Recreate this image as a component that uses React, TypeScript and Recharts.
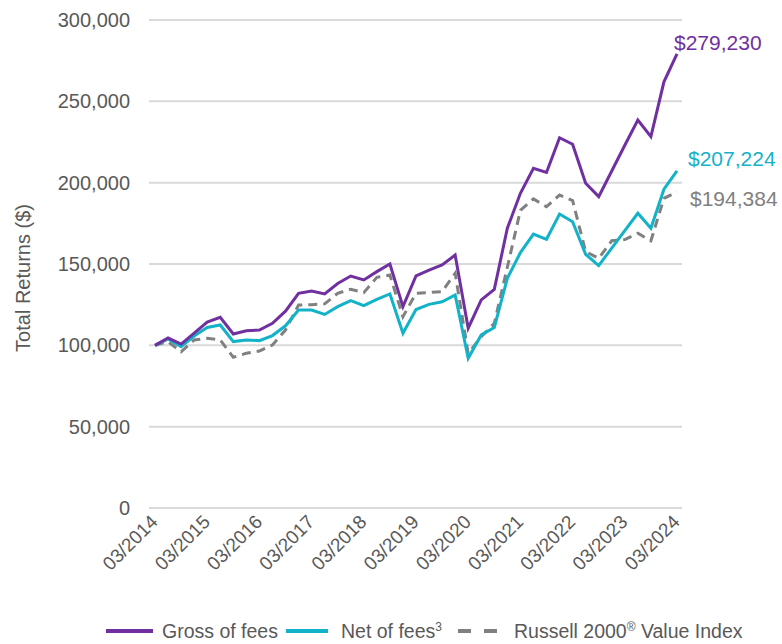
import React from "react";
import {
  LineChart,
  Line,
  XAxis,
  YAxis,
  CartesianGrid,
  Legend,
} from "recharts";

const quarters = [
  "03/2014", "06/2014", "09/2014", "12/2014",
  "03/2015", "06/2015", "09/2015", "12/2015",
  "03/2016", "06/2016", "09/2016", "12/2016",
  "03/2017", "06/2017", "09/2017", "12/2017",
  "03/2018", "06/2018", "09/2018", "12/2018",
  "03/2019", "06/2019", "09/2019", "12/2019",
  "03/2020", "06/2020", "09/2020", "12/2020",
  "03/2021", "06/2021", "09/2021", "12/2021",
  "03/2022", "06/2022", "09/2022", "12/2022",
  "03/2023", "06/2023", "09/2023", "12/2023",
  "03/2024",
];

const grossOfFees = [
  100000, 104500, 100800, 107500, 114300, 117200, 107000, 109000,
  109400, 113500, 121000, 132000, 133400, 131600, 138000, 142600,
  140200, 145300, 150000, 123800, 142700, 146300, 149400, 155500,
  110500, 127900, 134400, 172000, 193500, 208800, 206300, 227600,
  223600, 199600, 191400, 207200, 223000, 238500, 228300, 262000,
  279230,
];

const netOfFees = [
  100000, 103900, 99200, 105700, 111000, 112500, 102300, 103300,
  102900, 106000, 112000, 121700, 121700, 119000, 123800, 127500,
  124400, 128300, 131600, 107400, 122000, 125200, 126800, 131000,
  92000, 106400, 111000, 141200, 157000, 168400, 165200, 180700,
  176000, 156000, 149000, 159800, 170500, 181200, 172000, 196000,
  207224,
];

const russell2000Value = [
  100000, 102300, 96000, 103300, 104300, 103300, 92600, 95100,
  96500, 100200, 109400, 124800, 125000, 125500, 132000, 134500,
  132400, 141800, 143200, 117600, 132000, 132500, 133000, 144300,
  95000, 105300, 113500, 148000, 183000, 190000, 185200, 192400,
  189000, 157600, 153500, 164300, 165000, 168900, 164300, 190400,
  194384,
];

const xTicks = [
  "03/2014", "03/2015", "03/2016", "03/2017", "03/2018", "03/2019",
  "03/2020", "03/2021", "03/2022", "03/2023", "03/2024",
];

const yTicks = [0, 50000, 100000, 150000, 200000, 250000, 300000];

const PURPLE = "#7030A0";
const CYAN = "#12B2C8";
const GREY = "#808080";
const TEXT = "#595959";
const FONT = "'Liberation Sans', Arial, sans-serif";

const data = quarters.map((q, i) => ({
  date: q,
  gross: grossOfFees[i],
  net: netOfFees[i],
  russell: russell2000Value[i],
}));

const lastIndex = quarters.length - 1;
const fmt = (v: number) => v.toLocaleString("en-US");

const XTick = (props: any) => {
  const { x, y, payload } = props;
  return (
    <g transform={`translate(${x + 4},${y + 13}) rotate(-45)`}>
      <text x={0} y={0} textAnchor="end" fill={TEXT} fontSize={19} fontFamily={FONT}>
        {payload.value}
      </text>
    </g>
  );
};

// value label next to the final point of a series
const endLabel = (color: string, dx: number, dy: number) => (props: any) => {
  const { x, y, index, value } = props;
  if (index !== lastIndex) return null;
  return (
    <text x={x + dx} y={y + dy} fill={color} fontSize={21} fontFamily={FONT}>
      ${fmt(value)}
    </text>
  );
};

const LegendContent = () => (
  <div
    style={{
      display: "flex",
      alignItems: "center",
      paddingLeft: 106,
      fontFamily: FONT,
      fontSize: 19.5,
      color: TEXT,
      height: 26,
      whiteSpace: "nowrap",
    }}
  >
    <svg width={47} height={8}>
      <line x1={0} y1={4} x2={47} y2={4} stroke={PURPLE} strokeWidth={4} />
    </svg>
    <span style={{ marginLeft: 9 }}>Gross of fees</span>
    <svg width={42} height={8} style={{ marginLeft: 8 }}>
      <line x1={0} y1={4} x2={42} y2={4} stroke={CYAN} strokeWidth={4} />
    </svg>
    <span style={{ marginLeft: 13 }}>
      Net of fees<span style={{ fontSize: 12, verticalAlign: 7 }}>3</span>
    </span>
    <svg width={39} height={8} style={{ marginLeft: 16 }}>
      <line x1={0} y1={4} x2={39} y2={4} stroke={GREY} strokeWidth={4} strokeDasharray="13 13" />
    </svg>
    <span style={{ marginLeft: 17 }}>
      Russell 2000<span style={{ fontSize: 12, verticalAlign: 7 }}>®</span> Value Index
    </span>
  </div>
);

const YTitle = () => (
  <text
    x={0}
    y={0}
    transform="translate(30,278) rotate(-90)"
    textAnchor="middle"
    fill={TEXT}
    fontSize={20}
    fontFamily={FONT}
  >
    Total Returns ($)
  </text>
);

export default function App() {
  return (
    <div style={{ position: "absolute", left: 0, top: 0, background: "#fff" }}>
      <LineChart
        width={782}
        height={644}
        data={data}
        margin={{ top: 20, right: 100, bottom: 0, left: 0 }}
      >
        <CartesianGrid vertical={false} stroke="#D9D9D9" strokeWidth={2} />
        <XAxis
          dataKey="date"
          ticks={xTicks}
          interval={0}
          axisLine={false}
          tickLine={false}
          tickSize={0}
          height={110}
          padding={{ left: 6, right: 5 }}
          tick={<XTick />}
        />
        <YAxis
          domain={[0, 300000]}
          ticks={yTicks}
          width={149}
          axisLine={false}
          tickLine={false}
          tickSize={0}
          tickMargin={19}
          tickFormatter={fmt}
          tick={{ fill: TEXT, fontSize: 20, fontFamily: FONT }}
          label={<YTitle />}
        />
        <Legend
          verticalAlign="bottom"
          content={<LegendContent />}
          wrapperStyle={{ left: 0, width: 782, height: 26 }}
        />
        <Line
          dataKey="russell"
          stroke={GREY}
          strokeWidth={3}
          strokeDasharray="9 6"
          dot={false}
          isAnimationActive={false}
          label={endLabel(GREY, 13, 14)}
        />
        <Line
          dataKey="net"
          stroke={CYAN}
          strokeWidth={3}
          dot={false}
          isAnimationActive={false}
          label={endLabel(CYAN, 11, -5)}
        />
        <Line
          dataKey="gross"
          stroke={PURPLE}
          strokeWidth={3}
          dot={false}
          isAnimationActive={false}
          label={endLabel(PURPLE, -3, -4)}
        />
      </LineChart>
    </div>
  );
}
